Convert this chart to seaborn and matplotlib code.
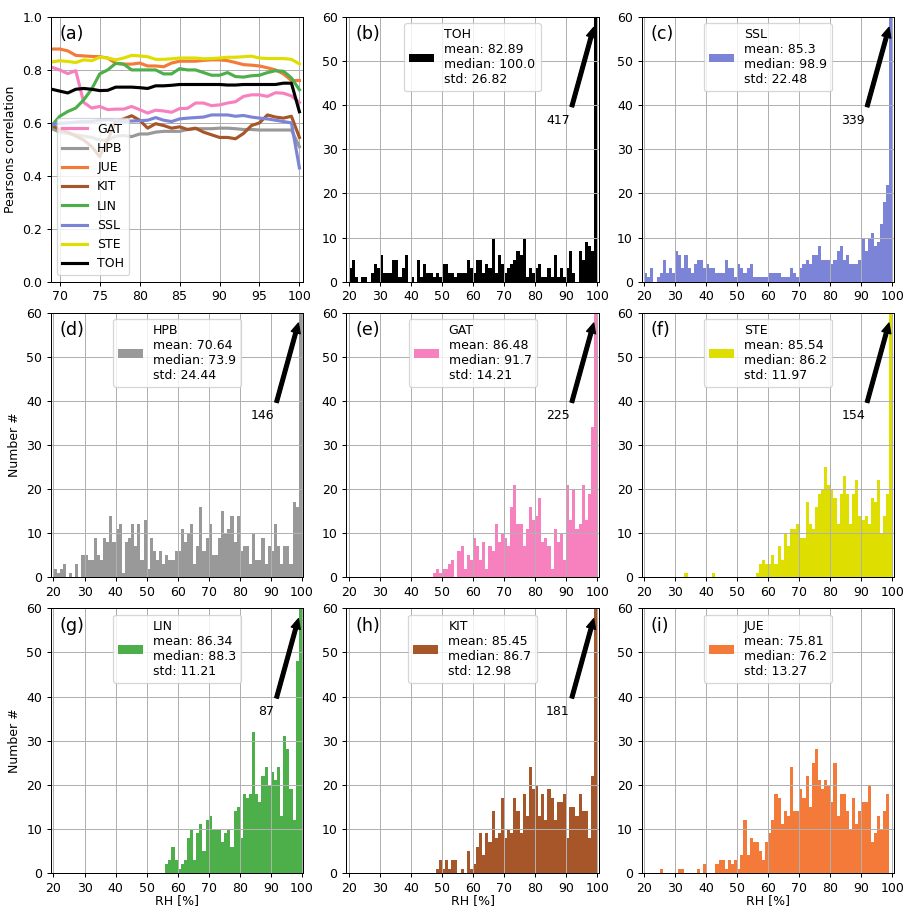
import numpy as np
import pandas as pd
import matplotlib
matplotlib.use("Agg")
import matplotlib.pyplot as plt
import seaborn as sns
from matplotlib.patches import Patch

# ---------------- panel (a): correlation vs RH threshold ----------------
rh_thresh = list(range(69, 101))
corr_gat = [0.81, 0.80, 0.786, 0.797, 0.677, 0.656, 0.662, 0.65, 0.652, 0.652, 0.662, 0.65,
            0.637, 0.648, 0.645, 0.64, 0.654, 0.655, 0.675, 0.675, 0.665, 0.668, 0.675, 0.68,
            0.70, 0.706, 0.706, 0.70, 0.714, 0.712, 0.702, 0.677]
corr_hpb = [0.578, 0.565, 0.56, 0.555, 0.55, 0.545, 0.535, 0.535, 0.55, 0.552, 0.548, 0.558,
            0.558, 0.565, 0.568, 0.568, 0.568, 0.575, 0.578, 0.578, 0.578, 0.58, 0.58, 0.578,
            0.575, 0.575, 0.573, 0.573, 0.573, 0.573, 0.573, 0.51]
corr_jue = [0.879, 0.879, 0.872, 0.855, 0.853, 0.851, 0.85, 0.845, 0.825, 0.822, 0.822, 0.826,
            0.815, 0.815, 0.812, 0.826, 0.833, 0.833, 0.833, 0.836, 0.838, 0.838, 0.835, 0.828,
            0.82, 0.818, 0.815, 0.808, 0.80, 0.785, 0.76, 0.76]
corr_kit = [0.59, 0.575, 0.565, 0.55, 0.535, 0.51, 0.473, 0.536, 0.605, 0.615, 0.627, 0.61,
            0.58, 0.597, 0.59, 0.58, 0.585, 0.575, 0.58, 0.565, 0.555, 0.545, 0.545, 0.54,
            0.56, 0.59, 0.60, 0.63, 0.622, 0.618, 0.625, 0.545]
corr_lin = [0.59, 0.625, 0.643, 0.656, 0.687, 0.728, 0.785, 0.80, 0.825, 0.822, 0.80, 0.80,
            0.80, 0.80, 0.785, 0.785, 0.805, 0.80, 0.80, 0.79, 0.78, 0.78, 0.79, 0.775,
            0.773, 0.778, 0.78, 0.79, 0.797, 0.795, 0.77, 0.725]
corr_ssl = [0.592, 0.598, 0.60, 0.603, 0.605, 0.605, 0.61, 0.612, 0.608, 0.605, 0.607, 0.608,
            0.61, 0.62, 0.61, 0.605, 0.615, 0.618, 0.62, 0.622, 0.63, 0.63, 0.63, 0.625,
            0.628, 0.622, 0.618, 0.615, 0.61, 0.605, 0.60, 0.43]
corr_ste = [0.83, 0.835, 0.832, 0.828, 0.838, 0.835, 0.848, 0.845, 0.838, 0.845, 0.855, 0.853,
            0.85, 0.84, 0.84, 0.842, 0.845, 0.845, 0.845, 0.842, 0.843, 0.845, 0.848, 0.848,
            0.85, 0.852, 0.845, 0.843, 0.843, 0.843, 0.84, 0.823]
corr_toh = [0.727, 0.72, 0.713, 0.727, 0.73, 0.727, 0.722, 0.723, 0.735, 0.735, 0.735, 0.733,
            0.73, 0.74, 0.74, 0.742, 0.745, 0.745, 0.745, 0.745, 0.745, 0.745, 0.743, 0.743,
            0.745, 0.745, 0.745, 0.745, 0.745, 0.75, 0.75, 0.642]

stations = ["GAT", "HPB", "JUE", "KIT", "LIN", "SSL", "STE", "TOH"]
corr = {"GAT": corr_gat, "HPB": corr_hpb, "JUE": corr_jue, "KIT": corr_kit,
        "LIN": corr_lin, "SSL": corr_ssl, "STE": corr_ste, "TOH": corr_toh}
colors = {"GAT": "#f781bf", "HPB": "#999999", "JUE": "#f47a3a", "KIT": "#a65628",
          "LIN": "#4daf4a", "SSL": "#7b84d6", "STE": "#dede00", "TOH": "#000000"}

# ---------------- histograms: counts per 1 % RH bin (20..99) ----------------
rh_bins = list(range(20, 100))

hist_toh = [3, 5, 1, 0, 1, 1, 0, 2, 4, 3, 6, 2, 2, 2, 5, 5, 1, 3, 6, 0,
            1, 0, 5, 1, 4, 2, 2, 1, 2, 1, 4, 4, 2, 2, 1, 2, 2, 2, 5, 3,
            2, 5, 5, 2, 4, 3, 10, 2, 6, 4, 2, 3, 4, 5, 7, 6, 10, 1, 3, 2,
            3, 4, 1, 1, 3, 1, 6, 1, 3, 1, 3, 7, 2, 0, 7, 5, 9, 8, 7, 417]
hist_ssl = [2, 1, 3, 0, 1, 2, 5, 2, 3, 2, 7, 6, 3, 6, 3, 2, 4, 5, 5, 3,
            4, 3, 3, 2, 2, 2, 5, 3, 3, 1, 4, 3, 2, 3, 4, 1, 1, 1, 1, 1,
            2, 2, 2, 2, 1, 1, 1, 3, 2, 1, 3, 4, 5, 4, 6, 6, 8, 5, 5, 5,
            4, 5, 7, 8, 5, 6, 4, 4, 4, 5, 10, 7, 10, 11, 8, 9, 13, 18, 22, 339]
hist_hpb = [2, 1, 2, 3, 0, 1, 0, 3, 0, 5, 5, 4, 4, 9, 5, 4, 9, 8, 14, 8,
            11, 12, 1, 8, 9, 12, 7, 12, 4, 13, 2, 9, 6, 4, 6, 3, 5, 4, 4, 6,
            6, 11, 8, 10, 12, 3, 7, 16, 6, 9, 12, 5, 5, 9, 15, 10, 11, 14, 8, 14,
            6, 7, 7, 3, 10, 4, 4, 9, 3, 7, 6, 12, 7, 3, 7, 7, 3, 17, 16, 146]
hist_gat = [0, 0, 0, 0, 0, 0, 0, 0, 0, 0, 0, 0, 0, 0, 0, 0, 0, 0, 0, 0,
            0, 0, 0, 0, 0, 0, 0, 1, 2, 1, 2, 2, 3, 4, 0, 6, 7, 2, 5, 4,
            9, 7, 4, 8, 2, 7, 6, 12, 8, 10, 9, 7, 16, 21, 12, 12, 7, 11, 16, 13,
            14, 18, 8, 9, 7, 2, 11, 8, 10, 4, 21, 13, 20, 11, 12, 21, 13, 19, 34, 225]
hist_ste = [0, 0, 0, 0, 0, 0, 0, 0, 0, 0, 0, 0, 0, 1, 0, 0, 0, 0, 0, 0,
            0, 0, 1, 0, 0, 0, 0, 0, 0, 0, 0, 0, 0, 0, 0, 0, 1, 3, 4, 3,
            3, 5, 3, 7, 4, 10, 7, 11, 11, 12, 9, 9, 17, 12, 11, 16, 19, 20, 25, 21,
            20, 18, 12, 19, 23, 19, 12, 19, 22, 14, 13, 14, 12, 18, 17, 22, 10, 14, 19, 154]
hist_lin = [0, 0, 0, 0, 0, 0, 0, 0, 0, 0, 0, 0, 0, 0, 0, 0, 0, 0, 0, 0,
            0, 0, 0, 0, 0, 0, 0, 0, 0, 0, 0, 0, 0, 0, 0, 0, 2, 3, 6, 3,
            1, 2, 3, 8, 10, 3, 9, 11, 5, 12, 13, 10, 10, 10, 7, 9, 10, 6, 14, 15,
            8, 18, 17, 18, 32, 18, 16, 22, 24, 20, 23, 21, 24, 13, 31, 28, 19, 12, 48, 87]
hist_kit = [0, 0, 0, 0, 0, 0, 0, 0, 0, 0, 0, 0, 0, 0, 0, 0, 0, 0, 0, 0,
            0, 0, 0, 0, 0, 0, 0, 0, 1, 3, 1, 3, 1, 3, 3, 0, 1, 0, 5, 1,
            2, 6, 9, 4, 9, 7, 14, 8, 9, 17, 8, 10, 9, 17, 14, 9, 18, 13, 24, 19,
            20, 13, 18, 12, 19, 17, 12, 16, 16, 18, 8, 15, 15, 13, 18, 14, 14, 8, 22, 181]
hist_jue = [0, 0, 0, 0, 0, 1, 0, 0, 0, 0, 0, 1, 1, 0, 0, 0, 0, 1, 0, 2,
            0, 0, 0, 2, 3, 3, 1, 3, 2, 3, 1, 4, 12, 4, 8, 7, 7, 5, 3, 7,
            9, 12, 18, 17, 11, 14, 13, 24, 14, 14, 19, 17, 22, 15, 25, 28, 21, 19, 21, 20,
            16, 25, 13, 18, 18, 14, 10, 17, 11, 14, 16, 16, 20, 7, 9, 13, 10, 14, 18, 0]

hist_names = ["TOH", "SSL", "HPB", "GAT", "STE", "LIN", "KIT", "JUE"]
hist_counts = [hist_toh, hist_ssl, hist_hpb, hist_gat, hist_ste, hist_lin, hist_kit, hist_jue]
hist_mean = ["82.89", "85.3", "70.64", "86.48", "85.54", "86.34", "85.45", "75.81"]
hist_median = ["100.0", "98.9", "73.9", "91.7", "86.2", "88.3", "86.7", "76.2"]
hist_std = ["26.82", "22.48", "24.44", "14.21", "11.97", "11.21", "12.98", "13.27"]
panel_letters = ["(a)", "(b)", "(c)", "(d)", "(e)", "(f)", "(g)", "(h)", "(i)"]

# ---------------- figure ----------------
fig, axes = plt.subplots(3, 3, figsize=(906 / 90, 907 / 90), dpi=90)
fig.subplots_adjust(left=51 / 906, right=894 / 906, top=1 - 17 / 907,
                    bottom=1 - 873 / 907, wspace=0.17, hspace=0.117)

ax = axes[0, 0]
for st in stations:
    sns.lineplot(x=rh_thresh, y=corr[st], ax=ax, color=colors[st], linewidth=2.5, label=st)
ax.set_xlim(68.9, 100.5)
ax.set_ylim(0, 1)
ax.set_xticks([70, 75, 80, 85, 90, 95, 100])
ax.set_yticks([0.0, 0.2, 0.4, 0.6, 0.8, 1.0])
ax.grid(True)
ax.legend(loc="lower left", fontsize=10)
ax.set_ylabel("Pearsons correlation")
ax.set_xlabel("")
ax.text(0.035, 0.935, panel_letters[0], transform=ax.transAxes, fontsize=14, va="center")

hist_axes = [axes[0, 1], axes[0, 2], axes[1, 0], axes[1, 1], axes[1, 2],
             axes[2, 0], axes[2, 1], axes[2, 2]]
for i, ax in enumerate(hist_axes):
    name = hist_names[i]
    counts = hist_counts[i]
    c = colors[name]
    df = pd.DataFrame({"rh": [b + 0.5 for b in rh_bins], "n": counts})
    sns.histplot(data=df, x="rh", weights="n", binwidth=1, binrange=(20, 100), ax=ax,
                 color=c, alpha=1, element="step", fill=True, linewidth=0)
    ax.set_xlim(19.2, 100.5)
    ax.set_ylim(0, 60)
    ax.set_xticks(list(range(20, 101, 10)))
    ax.set_yticks(list(range(0, 61, 10)))
    ax.grid(True)
    label = f"{name}\nmean: {hist_mean[i]}\nmedian: {hist_median[i]}\nstd: {hist_std[i]}"
    ax.legend(handles=[Patch(facecolor=c, label=label)], loc="upper center", fontsize=10)
    ax.text(0.035, 0.935, panel_letters[i + 1], transform=ax.transAxes, fontsize=14, va="center")
    if counts[-1] > 60:
        ax.annotate(str(counts[-1]), xy=(99.3, 58.7), xytext=(91.2, 35.8), ha="right",
                    fontsize=10,
                    arrowprops=dict(facecolor="black", shrink=0.05, width=3,
                                    headwidth=7.5, headlength=8))
    ax.set_ylabel("")
    ax.set_xlabel("")

axes[1, 0].set_ylabel("Number #")
axes[2, 0].set_ylabel("Number #")
for ax in axes[2, :]:
    ax.set_xlabel("RH [%]", labelpad=-0.5)

fig.savefig("out.png", dpi=90)
